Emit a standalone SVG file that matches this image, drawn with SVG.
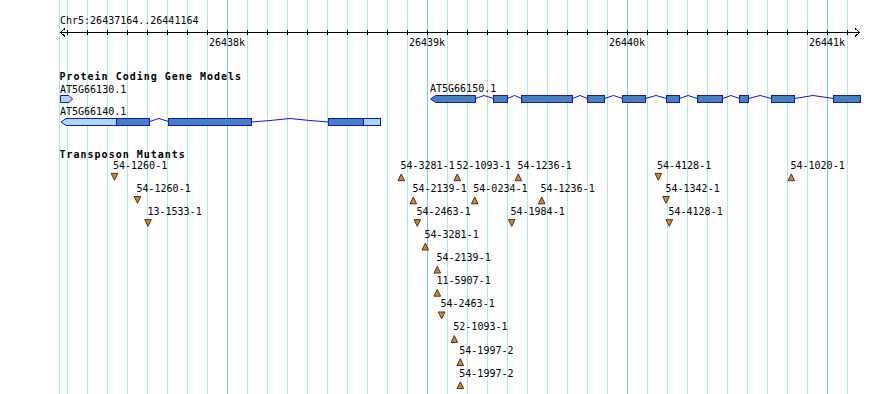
<svg xmlns="http://www.w3.org/2000/svg" width="890" height="394" viewBox="0 0 890 394">
<style>
.bg{fill:#ffffff}
.grid line{stroke:#a8ecec;stroke-width:1;shape-rendering:crispEdges}
.grid line.major{stroke:#78c8ee}
.axis{stroke:#000;stroke-width:1;fill:none;shape-rendering:crispEdges}
.t{font-family:"DejaVu Sans Mono","Liberation Mono",monospace;font-size:10px;fill:#000}
.title{font-family:"DejaVu Sans Mono","Liberation Mono",monospace;font-size:10px;font-weight:bold;letter-spacing:1px;fill:#000}
.utr{fill:#add8e6;stroke:#1010f0;stroke-width:1}
.cds{fill:#4682b4;stroke:#1010f0;stroke-width:1}
.intron{fill:none;stroke:#1010f0;stroke-width:1}
.tri{fill:#cd853f;stroke:#5a3210;stroke-width:1;stroke-linejoin:miter}
</style>
<defs>
<path id="up" d="M-3.3,3.4 L0,-3.4 L3.3,3.4 Z"/>
<path id="dn" d="M-3.3,-3.4 L3.3,-3.4 L0,3.4 Z"/>
</defs>
<rect class="bg" x="0" y="0" width="890" height="394"/>
<g id="grid" class="grid">
<line x1="59.5" y1="0" x2="59.5" y2="394"/><line x1="67.5" y1="0" x2="67.5" y2="394"/><line x1="87.5" y1="0" x2="87.5" y2="394"/><line x1="107.5" y1="0" x2="107.5" y2="394"/><line x1="127.5" y1="0" x2="127.5" y2="394"/><line x1="147.5" y1="0" x2="147.5" y2="394"/><line x1="167.5" y1="0" x2="167.5" y2="394"/><line x1="187.5" y1="0" x2="187.5" y2="394"/><line x1="207.5" y1="0" x2="207.5" y2="394"/><line class="major" x1="227.5" y1="0" x2="227.5" y2="394"/><line x1="247.5" y1="0" x2="247.5" y2="394"/><line x1="267.5" y1="0" x2="267.5" y2="394"/><line x1="287.5" y1="0" x2="287.5" y2="394"/><line x1="307.5" y1="0" x2="307.5" y2="394"/><line x1="327.5" y1="0" x2="327.5" y2="394"/><line x1="347.5" y1="0" x2="347.5" y2="394"/><line x1="367.5" y1="0" x2="367.5" y2="394"/><line x1="387.5" y1="0" x2="387.5" y2="394"/><line x1="407.5" y1="0" x2="407.5" y2="394"/><line class="major" x1="427.5" y1="0" x2="427.5" y2="394"/><line x1="447.5" y1="0" x2="447.5" y2="394"/><line x1="467.5" y1="0" x2="467.5" y2="394"/><line x1="487.5" y1="0" x2="487.5" y2="394"/><line x1="507.5" y1="0" x2="507.5" y2="394"/><line x1="527.5" y1="0" x2="527.5" y2="394"/><line x1="547.5" y1="0" x2="547.5" y2="394"/><line x1="567.5" y1="0" x2="567.5" y2="394"/><line x1="587.5" y1="0" x2="587.5" y2="394"/><line x1="607.5" y1="0" x2="607.5" y2="394"/><line class="major" x1="627.5" y1="0" x2="627.5" y2="394"/><line x1="647.5" y1="0" x2="647.5" y2="394"/><line x1="667.5" y1="0" x2="667.5" y2="394"/><line x1="687.5" y1="0" x2="687.5" y2="394"/><line x1="707.5" y1="0" x2="707.5" y2="394"/><line x1="727.5" y1="0" x2="727.5" y2="394"/><line x1="747.5" y1="0" x2="747.5" y2="394"/><line x1="767.5" y1="0" x2="767.5" y2="394"/><line x1="787.5" y1="0" x2="787.5" y2="394"/><line x1="807.5" y1="0" x2="807.5" y2="394"/><line class="major" x1="827.5" y1="0" x2="827.5" y2="394"/><line x1="847.5" y1="0" x2="847.5" y2="394"/>
</g>
<g id="ruler">
<text class="t" x="60" y="24">Chr5:26437164..26441164</text>
<path class="axis" d="M60,32.5 H860 M65,28.5 L60.5,32.5 L65,36.5 M855,28.5 L859.5,32.5 L855,36.5"/>
<path class="axis" d="M67.5,30 V35 M87.5,30 V35 M107.5,30 V35 M127.5,30 V35 M147.5,30 V35 M167.5,30 V35 M187.5,30 V35 M207.5,30 V35 M227.5,30 V35 M247.5,30 V35 M267.5,30 V35 M287.5,30 V35 M307.5,30 V35 M327.5,30 V35 M347.5,30 V35 M367.5,30 V35 M387.5,30 V35 M407.5,30 V35 M427.5,30 V35 M447.5,30 V35 M467.5,30 V35 M487.5,30 V35 M507.5,30 V35 M527.5,30 V35 M547.5,30 V35 M567.5,30 V35 M587.5,30 V35 M607.5,30 V35 M627.5,30 V35 M647.5,30 V35 M667.5,30 V35 M687.5,30 V35 M707.5,30 V35 M727.5,30 V35 M747.5,30 V35 M767.5,30 V35 M787.5,30 V35 M807.5,30 V35 M827.5,30 V35 M847.5,30 V35"/>
<text class="t" x="227" y="46" text-anchor="middle">26438k</text>
<text class="t" x="427" y="46" text-anchor="middle">26439k</text>
<text class="t" x="627" y="46" text-anchor="middle">26440k</text>
<text class="t" x="827" y="46" text-anchor="middle">26441k</text>
</g>
<text class="title" x="59.5" y="79.5">Protein Coding Gene Models</text>
<g id="AT5G66130.1">
<text class="t" x="60" y="92.5">AT5G66130.1</text>
<path class="utr" d="M60.5,95.5 H69 L72.5,99 L69,102.5 H60.5 Z"/>
</g>
<g id="AT5G66140.1">
<text class="t" x="60" y="114.5">AT5G66140.1</text>
<path class="intron" d="M149.5,121.5 L159,118.5 L168.5,121.5 M251.5,122 L270,120.5 L290,118.5 L310,120.5 L328.5,122"/>
<path class="utr" d="M61,122 L66,118.5 H116.5 V125.5 H66 Z"/>
<rect class="cds" x="116.5" y="118.5" width="33" height="7"/>
<rect class="cds" x="168.5" y="118.5" width="83" height="7"/>
<rect class="cds" x="328.5" y="118.5" width="35" height="7"/>
<rect class="utr" x="363.5" y="118.5" width="17" height="7"/>
</g>
<g id="AT5G66150.1">
<text class="t" x="430" y="92">AT5G66150.1</text>
<path class="intron" d="M475.5,98.5 L484,95.5 L493.5,98.5 M507.5,98.5 L514.5,95.5 L521.5,98.5 M572.5,98.5 L580,95.5 L587.5,98.5 M604.5,98.5 L613.5,95.5 L622.5,98.5 M645.5,98.5 L656,95.5 L666.5,98.5 M679.5,98.5 L688,95.5 L697.5,98.5 M722.5,98.5 L731,95.5 L739.5,98.5 M748.5,98.5 L760,95.5 L771.5,98.5 M794.5,98.5 L813,95.5 L833.5,98.5"/>
<path class="cds" d="M430.5,99 L435.5,95.5 H475.5 V102.5 H435.5 Z"/>
<rect class="cds" x="493.5" y="95.5" width="14" height="7"/>
<rect class="cds" x="521.5" y="95.5" width="51" height="7"/>
<rect class="cds" x="587.5" y="95.5" width="17" height="7"/>
<rect class="cds" x="622.5" y="95.5" width="23" height="7"/>
<rect class="cds" x="666.5" y="95.5" width="13" height="7"/>
<rect class="cds" x="697.5" y="95.5" width="25" height="7"/>
<rect class="cds" x="739.5" y="95.5" width="9" height="7"/>
<rect class="cds" x="771.5" y="95.5" width="23" height="7"/>
<rect class="cds" x="833.5" y="95.5" width="27" height="7"/>
</g>
<text class="title" x="59.5" y="157.5">Transposon Mutants</text>
<g id="mutants">
<g id="m1"><text class="t" x="113" y="168.7">54-1260-1</text><use href="#dn" class="tri" x="114.5" y="176.8"/></g>
<g id="m2"><text class="t" x="400.5" y="168.7">54-3281-1</text><use href="#up" class="tri" x="401.3" y="177.3"/></g>
<g id="m3"><text class="t" x="456.5" y="168.7">52-1093-1</text><use href="#up" class="tri" x="457.3" y="177.3"/></g>
<g id="m4"><text class="t" x="517.5" y="168.7">54-1236-1</text><use href="#up" class="tri" x="518.3" y="177.3"/></g>
<g id="m5"><text class="t" x="657" y="168.7">54-4128-1</text><use href="#dn" class="tri" x="658.3" y="176.8"/></g>
<g id="m6"><text class="t" x="790.5" y="168.7">54-1020-1</text><use href="#up" class="tri" x="791.3" y="177.3"/></g>
<g id="m7"><text class="t" x="136.5" y="191.8">54-1260-1</text><use href="#dn" class="tri" x="137.5" y="199.9"/></g>
<g id="m8"><text class="t" x="412.5" y="191.8">54-2139-1</text><use href="#up" class="tri" x="413.3" y="200.4"/></g>
<g id="m9"><text class="t" x="473.3" y="191.8">54-0234-1</text><use href="#up" class="tri" x="474.7" y="200.4"/></g>
<g id="m10"><text class="t" x="540.5" y="191.8">54-1236-1</text><use href="#up" class="tri" x="541.7" y="200.4"/></g>
<g id="m11"><text class="t" x="665.5" y="191.8">54-1342-1</text><use href="#dn" class="tri" x="666" y="199.9"/></g>
<g id="m12"><text class="t" x="147.5" y="214.9">13-1533-1</text><use href="#dn" class="tri" x="148" y="223"/></g>
<g id="m13"><text class="t" x="416.5" y="214.9">54-2463-1</text><use href="#dn" class="tri" x="417.3" y="223"/></g>
<g id="m14"><text class="t" x="510.5" y="214.9">54-1984-1</text><use href="#dn" class="tri" x="511.7" y="223"/></g>
<g id="m15"><text class="t" x="668.5" y="214.9">54-4128-1</text><use href="#dn" class="tri" x="669.3" y="223"/></g>
<g id="m16"><text class="t" x="424.5" y="238">54-3281-1</text><use href="#up" class="tri" x="425.3" y="246.6"/></g>
<g id="m17"><text class="t" x="436.5" y="261.1">54-2139-1</text><use href="#up" class="tri" x="437.3" y="269.7"/></g>
<g id="m18"><text class="t" x="436.5" y="284.2">11-5907-1</text><use href="#up" class="tri" x="437.3" y="292.8"/></g>
<g id="m19"><text class="t" x="440.5" y="307.3">54-2463-1</text><use href="#dn" class="tri" x="441.7" y="315.4"/></g>
<g id="m20"><text class="t" x="453.3" y="330.4">52-1093-1</text><use href="#up" class="tri" x="454.3" y="339"/></g>
<g id="m21"><text class="t" x="459.3" y="353.5">54-1997-2</text><use href="#up" class="tri" x="460.3" y="362.1"/></g>
<g id="m22"><text class="t" x="459.3" y="376.6">54-1997-2</text><use href="#up" class="tri" x="460.3" y="385.2"/></g>
</g>
</svg>
